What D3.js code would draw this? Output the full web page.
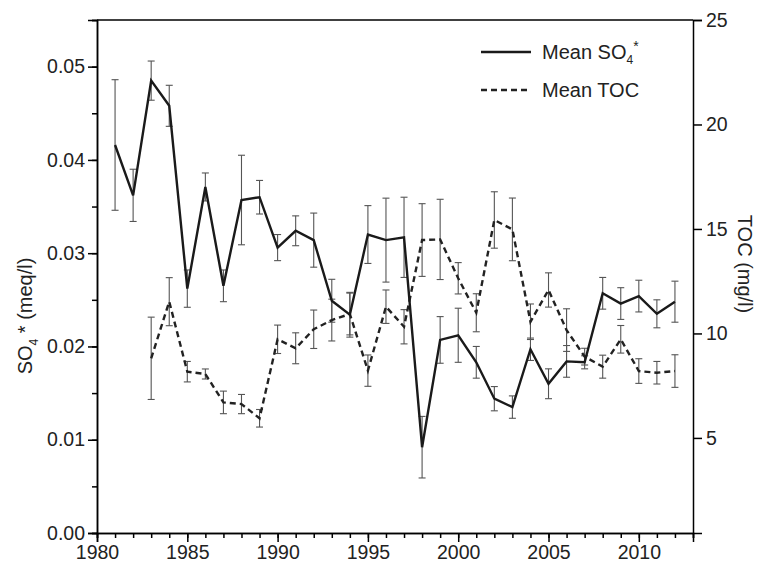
<!DOCTYPE html>
<html>
<head>
<meta charset="utf-8">
<script src="https://cdn.jsdelivr.net/npm/d3@7"></script>
<style>
  body { margin: 0; background: #fff; }
  svg text { font-family: "Liberation Sans", Arial, sans-serif; fill: #222; }
  .axis path, .axis line { stroke: #000; stroke-width: 1.5px; }
  .axis text { font-size: 19.5px; }
</style>
</head>
<body>
<div id="chart"></div>
<script>
// data
const years = d3.range(1981, 2013);
const so4 = [0.0416, 0.0362, 0.0485, 0.0458, 0.0262, 0.0371, 0.0265, 0.0357, 0.0360, 0.0306,
             0.0324, 0.0314, 0.0249, 0.0234, 0.0320, 0.0314, 0.0317, 0.0092, 0.0207, 0.0212,
             0.0183, 0.0144, 0.0135, 0.0197, 0.0160, 0.0184, 0.0183, 0.0257, 0.0246, 0.0254,
             0.0235, 0.0248];
const so4Err = [0.0070, 0.0028, 0.0021, 0.0022, 0.0020, 0.0015, 0.0017, 0.0048, 0.0018, 0.0014,
                0.0016, 0.0029, 0.0023, 0.0024, 0.0031, 0.0045, 0.0043, 0.0033, 0.0025, 0.0029,
                0.0017, 0.0013, 0.0012, 0.0012, 0.0016, 0.0017, 0.0007, 0.0017, 0.0017, 0.0017,
                0.0015, 0.0022];
// TOC has no values for 1981-1982
const toc = [null, null, 8.81, 11.52, 8.17, 8.06, 6.70, 6.62, 5.94, 9.72,
             9.29, 10.20, 10.64, 10.93, 8.22, 11.28, 10.32, 14.47, 14.50, 12.64,
             10.99, 15.43, 14.98, 10.56, 12.08, 10.16, 8.89, 8.41, 9.72, 8.20,
             8.12, 8.20];
const tocErr = [null, null, 1.97, 1.15, 0.49, 0.24, 0.54, 0.46, 0.42, 0.68,
                0.74, 0.92, 1.00, 1.00, 0.75, 0.80, 0.82, 1.74, 1.92, 0.75,
                0.91, 1.35, 1.50, 0.85, 0.82, 1.02, 0.40, 0.55, 0.66, 0.59,
                0.54, 0.78];
const xTicks = [1980, 1985, 1990, 1995, 2000, 2005, 2010];
const leftTicks = [0, 0.01, 0.02, 0.03, 0.04, 0.05];
const rightTicks = [5, 10, 15, 20, 25];

const W = 765, H = 571;
const margin = { top: 20, right: 72, bottom: 38, left: 97 };
const width = W - margin.left - margin.right;
const height = H - margin.top - margin.bottom;

const svg = d3.select("#chart").append("svg")
    .attr("width", W)
    .attr("height", H);
const g = svg.append("g")
    .attr("transform", `translate(${margin.left},${margin.top})`);

const x = d3.scaleLinear().domain([1980, 2013]).range([0, width]);
const yL = d3.scaleLinear().domain([0, 0.055]).range([height, 0]);
const yR = d3.scaleLinear().domain([0.45, 25]).range([height, 0]);

// minor ticks first so majors sit on top
g.append("g").attr("class", "axis")
    .attr("transform", `translate(0,${height})`)
    .call(d3.axisBottom(x).tickValues(d3.range(1980, 2014)).tickSize(5).tickFormat(""));
g.append("g").attr("class", "axis")
    .call(d3.axisLeft(yL).tickValues(d3.range(0, 0.0551, 0.005)).tickSize(5).tickFormat(""));

const xAxis = g.append("g").attr("class", "axis")
    .attr("transform", `translate(0,${height})`)
    .call(d3.axisBottom(x).tickValues(xTicks).tickSize(9).tickPadding(3).tickFormat(d3.format("d")));
const yAxisL = g.append("g").attr("class", "axis")
    .call(d3.axisLeft(yL).tickValues(leftTicks).tickSize(9).tickPadding(3).tickFormat(d3.format(".2f")));
const yAxisR = g.append("g").attr("class", "axis")
    .attr("transform", `translate(${width},0)`)
    .call(d3.axisRight(yR).tickValues(rightTicks).tickSize(9).tickPadding(4));

// top frame
g.append("line")
    .attr("x1", 0).attr("x2", width)
    .attr("y1", 0).attr("y2", 0)
    .attr("stroke", "#000").attr("stroke-width", 1.5);

// build rows
const so4Data = years.map((yr, i) => ({ year: yr, v: so4[i], e: so4Err[i] }));
const tocData = years.map((yr, i) => ({ year: yr, v: toc[i], e: tocErr[i] })).filter(d => d.v != null);

function errorBars(data, yScale, cls) {
    const eb = g.append("g").attr("class", cls)
        .attr("stroke", "#555").attr("stroke-width", 1.1).attr("fill", "none");
    const cap = 3.5;
    data.forEach(d => {
        const x0 = x(d.year), y1 = yScale(d.v + d.e), y2 = yScale(d.v - d.e);
        eb.append("line").attr("x1", x0).attr("x2", x0).attr("y1", y1).attr("y2", y2);
        eb.append("line").attr("x1", x0 - cap).attr("x2", x0 + cap).attr("y1", y1).attr("y2", y1);
        eb.append("line").attr("x1", x0 - cap).attr("x2", x0 + cap).attr("y1", y2).attr("y2", y2);
    });
}

errorBars(so4Data, yL, "so4-err");
errorBars(tocData, yR, "toc-err");

g.append("path")
    .datum(tocData)
    .attr("fill", "none")
    .attr("stroke", "#222")
    .attr("stroke-width", 2.4)
    .attr("stroke-dasharray", "6,4")
    .attr("d", d3.line().x(d => x(d.year)).y(d => yR(d.v)));

g.append("path")
    .datum(so4Data)
    .attr("fill", "none")
    .attr("stroke", "#1a1a1a")
    .attr("stroke-width", 2.4)
    .attr("stroke-linejoin", "miter")
    .attr("d", d3.line().x(d => x(d.year)).y(d => yL(d.v)));

// axis titles
const lt = svg.append("text")
    .attr("transform", `translate(32,${316}) rotate(-90)`)
    .attr("text-anchor", "middle")
    .style("font-size", "20px");
lt.append("tspan").text("SO");
lt.append("tspan").attr("dy", 6).style("font-size", "12px").text("4");
lt.append("tspan").attr("dy", -6).text(" * (meq/l)");

svg.append("text")
    .attr("transform", `translate(738,${264}) rotate(90)`)
    .attr("text-anchor", "middle")
    .style("font-size", "20px")
    .text("TOC (mg/l)");

// legend
const leg = svg.append("g");
leg.append("line").attr("x1", 481).attr("x2", 531).attr("y1", 52).attr("y2", 52)
    .attr("stroke", "#1a1a1a").attr("stroke-width", 2.4);
leg.append("line").attr("x1", 481).attr("x2", 531).attr("y1", 90).attr("y2", 90)
    .attr("stroke", "#222").attr("stroke-width", 2.4).attr("stroke-dasharray", "6,4");
const l1 = leg.append("text").attr("x", 542).attr("y", 59).style("font-size", "20px");
l1.append("tspan").text("Mean SO");
l1.append("tspan").attr("dy", 5).style("font-size", "12px").text("4");
l1.append("tspan").attr("dy", -13).style("font-size", "14px").text("*");
leg.append("text").attr("x", 542).attr("y", 97).style("font-size", "20px").text("Mean TOC");
</script>
</body>
</html>
